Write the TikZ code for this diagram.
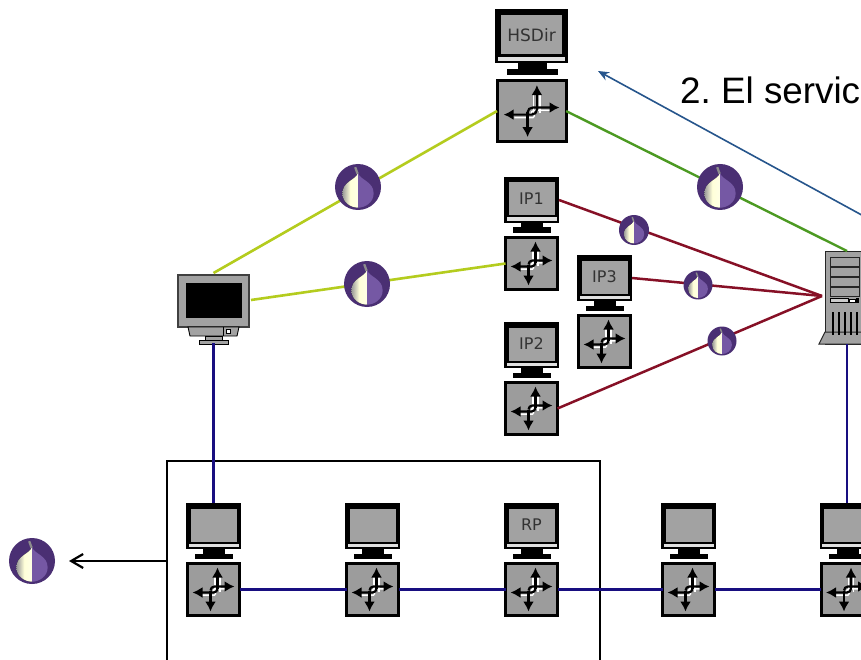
\documentclass[tikz,border=0pt]{standalone}
\usepackage{fontspec}
\setmainfont{Liberation Sans}
\newfontfamily\relayfont{DejaVu Sans}
\usetikzlibrary{arrows.meta}
\definecolor{tyellow}{HTML}{B4CC1E}
\definecolor{tgreen}{HTML}{4C9A22}
\definecolor{tred}{HTML}{861026}
\definecolor{tnavy}{HTML}{180E80}
\definecolor{tarrow}{HTML}{26558C}
\definecolor{tgrey}{HTML}{9C9C9C}
\definecolor{tscreen}{HTML}{A2A2A2}
\definecolor{tdark}{HTML}{4A2F73}
\definecolor{tmid}{HTML}{7558A4}
\tikzset{
  monbox/.style={draw=none,inner sep=0pt,outer sep=0pt,rectangle},
  routerbox/.style={draw=black,fill=tgrey,line width=3pt,inner sep=0pt,outer sep=0pt,rectangle},
  yellowlink/.style={draw=tyellow,line width=2.6pt},
  greenlink/.style={draw=tgreen,line width=2.4pt},
  redlink/.style={draw=tred,line width=2.5pt},
  navylink/.style={draw=tnavy,line width=2.5pt},
  arrowicon/.style={draw=black,line width=2.2pt,-{Latex[length=10pt,width=11pt]}},
  halo/.style={draw=white,line width=1.4pt},
  relaytext/.style={text=black!80,inner sep=0pt},
}
% name, left, top, xscale, yscale, label, font size
\newcommand\relayicon[7]{%
  \begin{scope}[shift={(#2,#3)},xscale=#4,yscale=#5]
    \fill[black] (0,0) rectangle (55,46);
    \fill[tscreen] (4.5,5.5) rectangle (50.5,38.5);
    \fill[black!12] (2.5,40.5) rectangle (52.5,44);
    \fill[black] (17,46) rectangle (39,50.5);
    \fill[black] (9,50.5) rectangle (47,56);
  \end{scope}
  \node[monbox,minimum width={55*#4},minimum height={46*#5}] (#1-mon) at (#2+27.5*#4,#3+23*#5) {};
  \node[routerbox,minimum width={52*#4},minimum height={52*#5}] (#1) at (#2+27.5*#4,#3+86.5*#5) {};
  \node[relaytext,font=\relayfont\fontsize{#7}{#7}\selectfont] (#1-label) at (#2+27.5*#4,#3+22*#5) {#6};
  \begin{scope}[shift={(#1)},xscale=#4,yscale=#5]
    \draw[halo] (1.6,2) -- (1.6,-15);
    \draw[halo] (6.4,2) -- (6.4,-15);
    \draw[halo] (-13,5.6) -- (1,5.6) to[out=0,in=-90] (2,2);
    \draw[halo] (-0.6,3) to[out=90,in=180] (2,-0.7) -- (14,-0.7);
    \draw[arrowicon] (-3,1) to[out=90,in=180] (1,-3) -- (21,-3);
    \draw[arrowicon] (-3,1) -- (-3,22);
    \draw[arrowicon] (4,-1) -- (4,-22);
    \draw[arrowicon] (4,-1) to[out=-90,in=0] (0,3) -- (-21,3);
  \end{scope}
}
% name, x, y, r
\newcommand\onion[4]{%
  \node[circle,fill=tdark,draw=none,minimum size={2*#4},inner sep=0pt,outer sep=0pt] (#1) at (#2,#3) {};
  \begin{scope}[shift={(#1)},scale=#4]
    \fill[left color=black!40!white,right color=white!90!yellow,middle color=white!85!yellow] (0,-.62) .. controls (-.08,-.3) and (-.68,-.25) .. (-.68,.28) .. controls (-.68,.68) and (-.3,.9) .. (0,.9) -- cycle;
    \fill[tmid] (0,-.62) .. controls (.08,-.3) and (.68,-.25) .. (.68,.28) .. controls (.68,.68) and (.3,.9) .. (0,.9) -- cycle;
    \draw[black!45,line width={.1*#4}] (-.12,-.86) -- (-.02,-.58);
  \end{scope}
}
\begin{document}
\begin{tikzpicture}[x=1pt,y=-1pt]
\useasboundingbox (0,0) rectangle (861,660);
\clip (0,0) rectangle (861,660);
\fill[white] (0,0) rectangle (861,660);

% box
\coordinate (boxTL) at (167,461);
\coordinate (boxBR) at (600,680);
\coordinate (boxW) at (167,561);
\draw[black,line width=2.4pt] (boxTL) rectangle (boxBR);

% relays
\relayicon{hsdir}{495}{9}{1.33}{1.18}{HSDir}{17}
\relayicon{ipone}{504}{177}{1}{1}{IP1}{16}
\relayicon{iptwo}{504}{322}{1}{1}{IP2}{16}
\relayicon{ipthree}{577}{255}{1}{1}{IP3}{16}
\relayicon{ra}{186}{503}{1}{1}{}{12}
\relayicon{rb}{345}{503}{1}{1}{}{12}
\relayicon{rp}{504}{503}{1}{1}{RP}{16}
\relayicon{rc}{661}{503}{1}{1}{}{12}
\relayicon{rd}{819.5}{503}{1}{1}{}{12}

% client
\node[rectangle,minimum width=71pt,minimum height=70pt,inner sep=0pt,outer sep=0pt] (client) at (213.5,308) {};
\fill[tscreen,draw=black!75,line width=1.2pt] (178,275) rectangle (249,327);
\fill[black] (186,283) rectangle (241.5,318);
\fill[tscreen,draw=black,line width=.9pt] (188,327) -- (239,327) -- (237,336) -- (190,336) -- cycle;
\draw[black,line width=.9pt,fill=white] (226,329.5) rectangle (230,333);
\draw[black,line width=.9pt] (223,327) -- (223,336);
\fill[tscreen,draw=black,line width=.9pt] (205,336) rectangle (222,340);
\fill[tscreen,draw=black,line width=.9pt] (199,340) rectangle (228,344.5);

% server
\node[rectangle,minimum width=44pt,minimum height=93pt,inner sep=0pt,outer sep=0pt] (server) at (847,297.5) {};
\fill[tscreen,draw=black!85,line width=1.8pt] (825.5,251.5) rectangle (875,344);
\fill[tscreen,draw=black!85,line width=1pt] (825,332) -- (819,344) -- (875,344) -- (875,332) -- cycle;
\foreach \yy in {257,267,277,287}{\fill[tscreen,draw=black!85,line width=1pt] (830,\yy) rectangle (859.5,\yy+9.5);}
\fill[black!20,draw=black,line width=.8pt] (830,298) rectangle (848,302.5);
\fill[white,draw=black,line width=.5pt] (849,299) rectangle (855,302);
\fill[black] (856,298) rectangle (859,303);
\foreach \xx in {833,839,845,851,857}{\draw[black,line width=1.3pt] (\xx,312) -- (\xx,335);}

% links
\coordinate (hub) at (822,296);
\coordinate (clientR) at (251,300);
\coordinate (hsdirArrow) at (598,71);
\coordinate (arrowEnd) at (880,225);
\coordinate (textpos) at (680,103.5);
\coordinate (blackTip) at (69,561);

\draw[yellowlink] (client.north) -- (hsdir.west);
\draw[yellowlink] (clientR) -- (ipone.west);
\draw[greenlink] (hsdir.east) -- (server.north);
\draw[redlink] (ipone-mon.east) -- (hub);
\draw[redlink] (ipthree-mon.east) -- (hub);
\draw[redlink] (iptwo.east) -- (hub);
\draw[navylink] (client.south) -- (ra-mon.north);
\draw[navylink] (server.south) -- (rd-mon.north);
\draw[navylink] (ra.east) -- (rb.west);
\draw[navylink] (rb.east) -- (rp.west);
\draw[navylink] (rp.east) -- (rc.west);
\draw[navylink] (rc.east) -- (rd.west);

% onions
\onion{oa}{358}{187}{23}
\onion{ob}{367}{284}{23}
\onion{oc}{720}{187}{23}
\onion{od}{32}{561}{23}
\onion{oe}{634}{230}{15}
\onion{of}{698}{285}{14.5}
\onion{og}{722}{341}{14.5}

% arrows
\draw[black,line width=2.2pt,-{Straight Barb[length=12pt,width=14pt]}] (boxW) -- (blackTip);
\draw[tarrow,line width=1.6pt,-{Stealth[length=11pt,width=9pt]}] (arrowEnd) -- (hsdirArrow);

\node[anchor=base west,inner sep=0pt,font=\frenchspacing\fontsize{36.8}{37}\selectfont,text=black] (title) at (textpos) {2. El servic};
\end{tikzpicture}
\end{document}
